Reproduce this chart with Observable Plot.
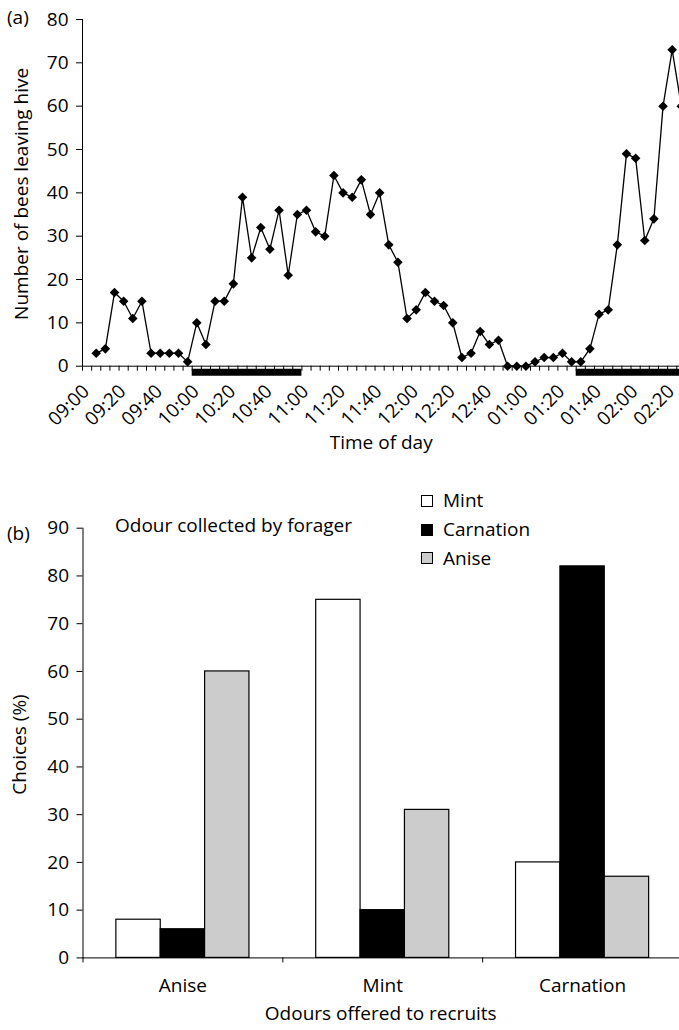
<!DOCTYPE html>
<html><head><meta charset="utf-8">
<script src="https://cdn.jsdelivr.net/npm/d3@7"></script>
<script src="https://cdn.jsdelivr.net/npm/@observablehq/plot@0.6"></script>
<style>
html,body{margin:0;padding:0;background:#fff;overflow:hidden;}
#fig{position:relative;width:679px;height:1030px;font-family:"Open Sans",sans-serif;color:#000;}
#fig svg{max-width:none;display:block;}
.ann{position:absolute;font-size:19px;line-height:19px;white-space:nowrap;}
.sw{position:absolute;width:10px;height:10px;border:1px solid #000;}
</style></head><body><div id="fig"><div id="pa"></div><div id="pb"></div></div>
<script>
// ---------- Panel (a) data ----------
const beeCounts = [3,4,17,15,11,15,3,3,3,3,1,10,5,15,15,19,39,25,32,27,36,21,35,36,31,30,44,40,39,43,35,40,28,24,11,13,17,15,14,10,2,3,8,5,6,0,0,0,1,2,2,3,1,1,4,12,13,28,49,48,29,34,60,73,60];
const firstBin = "09:05";
const binMinutes = 5;
const timeTicks = ["09:00","09:20","09:40","10:00","10:20","10:40","11:00","11:20","11:40","12:00","12:20","12:40","01:00","01:20","01:40","02:00","02:20"];
const stimulusStart = ["10:00","01:30"];
const stimulusEnd = ["11:00","02:30"];
const yTicksA = [0,10,20,30,40,50,60,70,80];

// ---------- Panel (b) data ----------
const offeredOdours = ["Anise","Mint","Carnation"];
const collectedOdours = ["Mint","Carnation","Anise"];
const mintChoices = [8,75,20];
const carnationChoices = [6,10,82];
const aniseChoices = [60,31,17];
const collectedFills = ["#ffffff","#000000","#cccccc"];
const yTicksB = [0,10,20,30,40,50,60,70,80,90];

// ---------- helpers ----------
const toMin = s => { let [h, m] = s.split(":").map(Number); if (h < 9) h += 12; return (h - 9) * 60 + m; };
const half = binMinutes / 2;
const t0 = toMin(firstBin);
const beeData = beeCounts.map((v, i) => ({t: t0 + i * binMinutes, v}));
const tMax = d3.max(beeData, d => d.t);
const binEdges = d3.range(-half, tMax + half + 0.001, binMinutes);
const periods = stimulusStart.map((s, i) => ({start: s, end: stimulusEnd[i]}));

const diamond = {draw(ctx, size) { const r = Math.sqrt(size / Math.PI); ctx.moveTo(0, -r); ctx.lineTo(r, 0); ctx.lineTo(0, r); ctx.lineTo(-r, 0); ctx.closePath(); }};

const font = {fontFamily: "'Open Sans', sans-serif", fontSize: "19px", color: "#000", background: "transparent"};

const plotA = Plot.plot({
  width: 679, height: 460,
  marginTop: 19, marginBottom: 94.3, marginLeft: 82, marginRight: -6.4,
  style: font,
  x: {domain: [-half, tMax + half], ticks: binEdges, tickFormat: () => "", tickSize: 5, line: true, label: null},
  y: {domain: [0, 80], ticks: yTicksA, tickSize: 6, tickPadding: 8, line: true, label: null},
  marks: [
    Plot.ruleY(periods, {y: () => 0, x1: d => toMin(d.start) - half, x2: d => toMin(d.end) - half, stroke: "#000", strokeWidth: 7, dy: 6}),
    Plot.line(beeData, {x: "t", y: "v", stroke: "#000", strokeWidth: 1.3}),
    Plot.dot(beeData, {x: "t", y: "v", symbol: diamond, r: 4.8, fill: "#000", stroke: "none"}),
    Plot.text(timeTicks, {x: d => toMin(d), y: () => 0, text: d => d, rotate: -45, textAnchor: "end", lineAnchor: "middle", dx: -1, dy: 22}),
    Plot.text(["Time of day"], {frameAnchor: "bottom", text: d => d, textAnchor: "middle", lineAnchor: "middle", dx: -3, dy: 77}),
    Plot.text(["Number of bees leaving hive"], {frameAnchor: "left", text: d => d, rotate: -90, textAnchor: "middle", lineAnchor: "middle", dx: -61, dy: 1})
  ]
});
document.getElementById("pa").appendChild(plotA);

const seriesValues = [mintChoices, carnationChoices, aniseChoices];
const choiceData = collectedOdours.flatMap((c, j) => offeredOdours.map((o, i) => ({offered: o, collected: c, gi: i, sj: j, value: seriesValues[j][i]})));
const groupWidth = 0.666;
const barWidth = groupWidth / collectedOdours.length;

const plotB = Plot.plot({
  width: 679, height: 570,
  marginTop: 67.7, marginBottom: 72.6, marginLeft: 82.5, marginRight: -3,
  style: font,
  x: {domain: [-0.5, offeredOdours.length - 0.5], ticks: d3.range(-0.5, offeredOdours.length, 1), tickFormat: () => "", tickSize: 5, line: true, label: null},
  y: {domain: [0, 90], ticks: yTicksB, tickSize: 6, tickPadding: 8, line: true, label: null},
  color: {domain: collectedOdours, range: collectedFills},
  marks: [
    Plot.rectY(choiceData, {x1: d => d.gi - groupWidth / 2 + d.sj * barWidth, x2: d => d.gi - groupWidth / 2 + (d.sj + 1) * barWidth, y: "value", fill: "collected", stroke: "#000", strokeWidth: 1.2}),
    Plot.text(offeredOdours, {x: (d, i) => i, y: () => 0, text: d => d, textAnchor: "middle", lineAnchor: "middle", dy: 28}),
    Plot.text(["Odours offered to recruits"], {frameAnchor: "bottom", text: d => d, textAnchor: "middle", lineAnchor: "middle", dx: -2, dy: 56}),
    Plot.text(["Choices (%)"], {frameAnchor: "left", text: d => d, rotate: -90, textAnchor: "middle", lineAnchor: "middle", dx: -63, dy: 1.5})
  ]
});
document.getElementById("pb").appendChild(plotB);

// annotations & legend
const fig = document.getElementById("fig");
function addText(txt, left, cy) { const d = document.createElement("div"); d.className = "ann"; d.textContent = txt; d.style.left = left + "px"; d.style.top = (cy - 9.5) + "px"; fig.appendChild(d); }
addText("(a)", 7, 17);
addText("(b)", 7, 533);
addText("Odour collected by forager", 115, 525);
collectedOdours.forEach((c, j) => {
  const cy = 500.8 + j * 28.7;
  const s = document.createElement("div"); s.className = "sw"; s.style.left = "420.5px"; s.style.top = (cy - 6) + "px"; s.style.background = collectedFills[j]; fig.appendChild(s);
  addText(c, 443, cy);
});
</script></body></html>
